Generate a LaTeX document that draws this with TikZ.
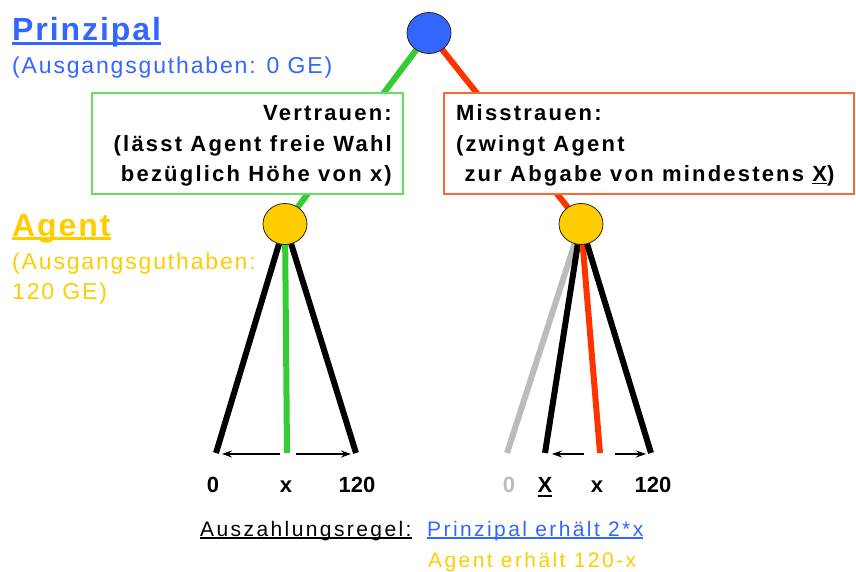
\documentclass[tikz,border=0pt]{standalone}
\usepackage{fontspec}
\setmainfont{Liberation Sans}
% letter-spaced variants of the same family
\newfontfamily\headfont[LetterSpace=6]{Liberation Sans}
\newfontfamily\notefont[LetterSpace=8]{Liberation Sans}
\newfontfamily\boxfont[LetterSpace=10]{Liberation Sans}
\newfontfamily\rulefont[LetterSpace=11.5]{Liberation Sans}
\usetikzlibrary{shapes.geometric,arrows.meta,backgrounds}

\definecolor{pblue}{HTML}{3366FF}
\definecolor{ayellow}{HTML}{FFCC00}
\definecolor{tgreen}{HTML}{33CC33}
\definecolor{tred}{HTML}{FF3300}
\definecolor{gbord}{HTML}{66DD66}
\definecolor{rbord}{HTML}{FF6633}
\definecolor{lgray}{HTML}{BBBBBB}

% underline with a chosen offset (#1) and thickness (#2)
\newsavebox\ulbox
\newcommand{\ulbar}[3]{\sbox\ulbox{#3}\rlap{\vrule width\wd\ulbox height -#1 depth \dimexpr#1+#2\relax}\usebox\ulbox}

\begin{document}
\begin{tikzpicture}[x=1pt,y=-1pt,
  player/.style={ellipse, draw=black!85, line width=0.8pt, minimum width=44pt, minimum height=41pt, inner sep=0pt},
  choicebox/.style={rectangle, fill=white, line width=1.5pt, inner sep=0pt, minimum height=101pt},
  txt/.style={inner sep=0pt, anchor=base west},
  rtxt/.style={inner sep=0pt, anchor=base east},
  lbl/.style={inner sep=0pt, anchor=base, font=\bfseries\fontsize{22}{26}\selectfont},
  headline/.style={font=\headfont\bfseries\fontsize{32}{38}\selectfont},
  noteline/.style={font=\notefont\fontsize{23}{28}\selectfont},
  boxline/.style={font=\boxfont\bfseries\fontsize{22}{26}\selectfont},
  ruleline/.style={font=\rulefont\fontsize{21}{25}\selectfont},
  branch/.style={line width=6pt},
  pick/.style={line width=1.2pt, -{Stealth[length=10pt,width=7pt]}}
]
\useasboundingbox (0,0) rectangle (856,572);

% players
\node[player, fill=pblue] (pr) at (429,33) {};
\node[player, fill=ayellow] (agL) at (285,224) {};
\node[player, fill=ayellow] (agR) at (581,224) {};

% the principal's two choices
\node[choicebox, draw=gbord, minimum width=311pt] (trust) at (247.5,143.5) {};
\node[choicebox, draw=rbord, minimum width=410pt] (distrust) at (649,143.5) {};

\node[rtxt, boxline] (t1) at (392,121) {Vertrauen:};
\node[rtxt, boxline] (t2) at (392,151.5) {(lässt Agent freie Wahl};
\node[rtxt, boxline] (t3) at (392,181.5) {bezüglich Höhe von x)};
\node[txt, boxline] (d1) at (456,121) {Misstrauen:};
\node[txt, boxline] (d2) at (456,151.5) {(zwingt Agent};
\node[txt, boxline] (d3) at (456,181.5) {\ zur Abgabe von mindestens \ulbar{1.5pt}{1.3pt}{X})};

% player legends
\node[txt, headline, text=pblue] (ptitle) at (12,41) {\ulbar{1pt}{3pt}{Prinzipal}};
\node[txt, noteline, text=pblue] (pnote) at (12,74) {(Ausgangsguthaben: 0 GE)};
\node[txt, headline, text=ayellow] (atitle) at (12,236) {\ulbar{1pt}{3pt}{Agent}};
\node[txt, noteline, text=ayellow] (anote1) at (12,269) {(Ausgangsguthaben:};
\node[txt, noteline, text=ayellow] (anote2) at (12,299) {120 GE)};

% ends of the agent's branches
\coordinate (l0) at (216,453);
\coordinate (lx) at (287,453);
\coordinate (l120) at (356,453);
\coordinate (r0) at (507,453);
\coordinate (rX) at (545,453);
\coordinate (rx) at (600,453);
\coordinate (r120) at (651,453);

\begin{pgfonlayer}{background}
  \draw[branch, tgreen] (pr.center) -- (agL.center);
  \draw[branch, tred] (pr.center) -- (agR.center);
  \draw[branch, black] (agL.center) -- (l0);
  \draw[branch, black] (agL.center) -- (l120);
  \draw[branch, tgreen] (agL.center) -- (lx);
  \draw[branch, lgray] (agR.center) -- (r0);
  \draw[branch, black] (agR.center) -- (rX);
  \draw[branch, tred] (agR.center) -- (rx);
  \draw[branch, black] (agR.center) -- (r120);
\end{pgfonlayer}

% range arrows
\coordinate (la) at (280,454);
\coordinate (lb) at (222,454);
\coordinate (lc) at (296,454);
\coordinate (ld) at (351,454);
\coordinate (ra) at (584,454);
\coordinate (rb) at (552,454);
\coordinate (rc) at (615,454);
\coordinate (rd) at (646,454);
\draw[pick] (la) -- (lb);
\draw[pick] (lc) -- (ld);
\draw[pick] (ra) -- (rb);
\draw[pick] (rc) -- (rd);

% branch labels
\node[lbl] (n0) at (213,492) {0};
\node[lbl] (nx) at (286,492) {x};
\node[lbl] (n120) at (357,492) {120};
\node[lbl, text=lgray] (m0) at (509,492) {0};
\node[lbl] (mX) at (545,492) {\ulbar{3pt}{2pt}{X}};
\node[lbl] (mx) at (597,492) {x};
\node[lbl] (m120) at (653,492) {120};

% payoff rule
\node[txt, ruleline] (rule) at (200,536) {\ulbar{1.2pt}{2pt}{Auszahlungsregel:}};
\node[txt, ruleline, text=pblue] (rulep) at (427,536) {\ulbar{1.2pt}{2pt}{Prinzipal erhält 2*x}};
\node[txt, ruleline, text=ayellow] (rulea) at (428,567) {Agent erhält 120-x};
\end{tikzpicture}
\end{document}
